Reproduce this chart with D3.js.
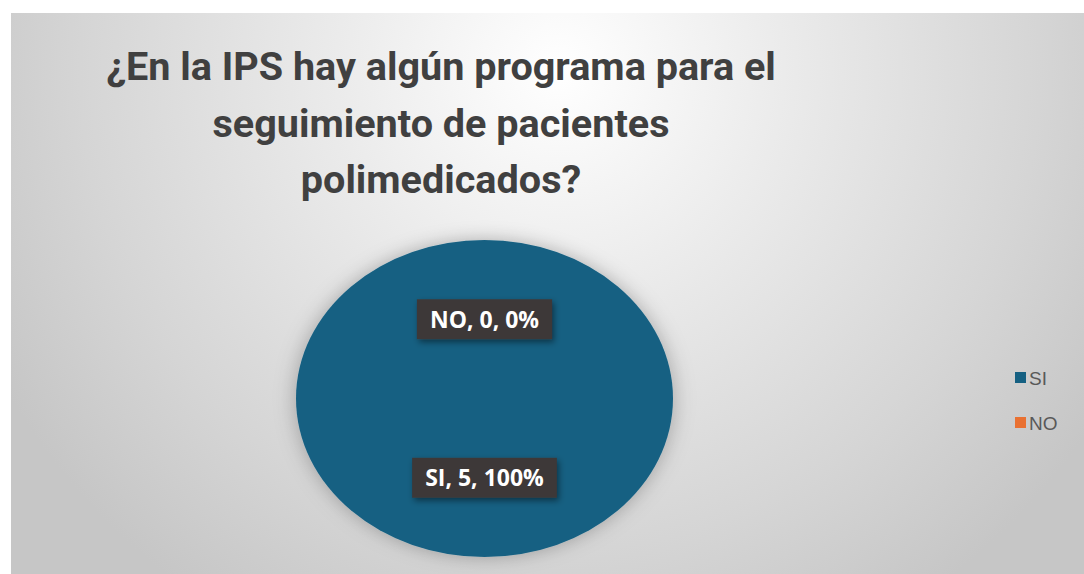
<!DOCTYPE html>
<html><head><meta charset="utf-8">
<script src="https://cdn.jsdelivr.net/npm/d3@7"></script>
<style>html,body{margin:0;padding:0;background:#fff;overflow:hidden}</style>
</head><body>
<svg id="chart" width="1084" height="574"></svg>
<script>
const categories = ["SI", "NO"];
const values = [5, 0];
const seriesColors = ["#156082", "#E97132"];
const titleLines = ["¿En la IPS hay algún programa para el", "seguimiento de pacientes", "polimedicados?"];

const W = 1084, H = 574;
const svg = d3.select("#chart");
const defs = svg.append("defs");

const bg = defs.append("radialGradient").attr("id", "bg")
  .attr("gradientUnits", "userSpaceOnUse")
  .attr("cx", 560).attr("cy", 70).attr("r", 640);
bg.append("stop").attr("offset", "0").attr("stop-color", "#ffffff");
bg.append("stop").attr("offset", "0.35").attr("stop-color", "#ebebeb");
bg.append("stop").attr("offset", "0.75").attr("stop-color", "#d5d5d5");
bg.append("stop").attr("offset", "1").attr("stop-color", "#c6c6c6");

const sh = defs.append("filter").attr("id", "pieShadow")
  .attr("x", "-30%").attr("y", "-30%").attr("width", "160%").attr("height", "160%");
sh.append("feDropShadow").attr("dx", 0).attr("dy", 0).attr("stdDeviation", 9)
  .attr("flood-color", "#000").attr("flood-opacity", 0.28);

const lsh = defs.append("filter").attr("id", "lblShadow")
  .attr("x", "-30%").attr("y", "-40%").attr("width", "160%").attr("height", "190%");
lsh.append("feDropShadow").attr("dx", 2).attr("dy", 3).attr("stdDeviation", 3)
  .attr("flood-color", "#000").attr("flood-opacity", 0.45);

svg.append("rect").attr("x", 11).attr("y", 13).attr("width", W - 11).attr("height", H - 13)
  .attr("fill", "url(#bg)");

// Title
const baselines = [80, 137, 193];
const tl = svg.append("g").selectAll("text").data(titleLines).enter().append("text")
  .attr("x", 441).attr("y", (d, i) => baselines[i])
  .attr("text-anchor", "middle")
  .attr("font-family", "Roboto, sans-serif").attr("font-weight", 700)
  .attr("font-size", 40).attr("fill", "#404040")
  .text(d => d);
const w0 = tl.node().getComputedTextLength();
tl.attr("font-size", 40 * 670 / w0);

// Pie
const cx = 484.5, cy = 398.5, rx = 188.5, ry = 158.5;
const sx = rx / ry;
const data = categories.map((c, i) => ({ cat: c, value: values[i], color: seriesColors[i] }));
const total = d3.sum(values);
const pie = d3.pie().value(d => d.value).sort(null);
const arcs = pie(data);
const arc = d3.arc().innerRadius(0).outerRadius(ry);

const pg = svg.append("g").attr("transform", `translate(${cx},${cy})`);
pg.append("g").attr("filter", "url(#pieShadow)")
  .attr("transform", `scale(${sx},1)`)
  .selectAll("path").data(arcs).enter().append("path")
  .attr("d", arc).attr("fill", d => d.data.color);

const pct = d3.format(".0%");
arcs.forEach(a => {
  const [x, y] = arc.centroid(a);
  const g = pg.append("g").attr("transform", `translate(${x * sx},${y})`);
  const t = g.append("text").attr("text-anchor", "middle").attr("dy", "0.36em")
    .attr("font-family", "'Open Sans', sans-serif").attr("font-weight", 700)
    .attr("font-size", 23).attr("fill", "#ffffff")
    .text(`${a.data.cat}, ${a.data.value}, ${pct(a.data.value / total)}`);
  const bw = t.node().getComputedTextLength() + 26;
  g.insert("rect", "text").attr("x", -bw / 2).attr("y", -20).attr("width", bw).attr("height", 40)
    .attr("fill", "#3d3838").attr("filter", "url(#lblShadow)");
});

// Legend
const lg = svg.append("g").attr("transform", "translate(1015,378)");
const li = lg.selectAll("g").data(data).enter().append("g")
  .attr("transform", (d, i) => `translate(0,${i * 45})`);
li.append("rect").attr("x", 0).attr("y", -6).attr("width", 11).attr("height", 11)
  .attr("fill", d => d.color);
li.append("text").attr("x", 14).attr("dy", "0.36em")
  .attr("font-family", "'Liberation Sans', Arial, sans-serif").attr("font-size", 19)
  .attr("fill", "#595959").text(d => d.cat);
</script>
</body></html>
